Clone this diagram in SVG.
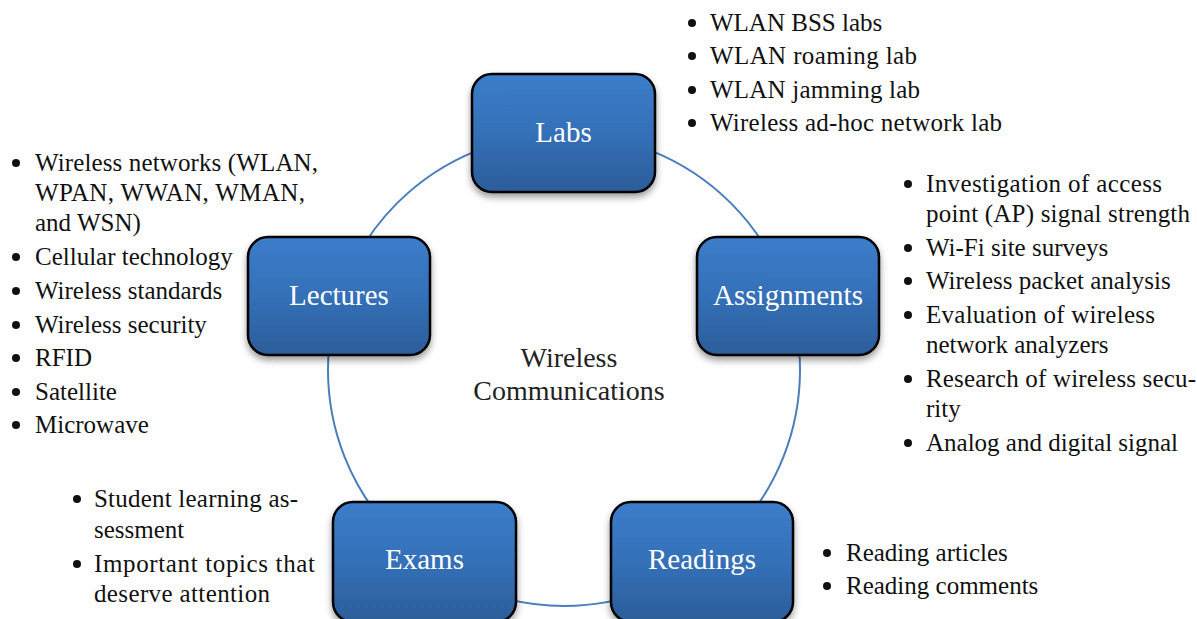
<svg xmlns="http://www.w3.org/2000/svg" width="1197" height="619" viewBox="0 0 1197 619">
<defs>
<linearGradient id="boxGrad" x1="0" y1="0" x2="0" y2="1">
<stop offset="0" stop-color="#3C7DCA"/>
<stop offset="0.5" stop-color="#3470B8"/>
<stop offset="1" stop-color="#2C5D99"/>
</linearGradient>
<filter id="shadow" x="-20%" y="-20%" width="140%" height="150%">
<feDropShadow dx="0" dy="4" stdDeviation="3.5" flood-color="#000" flood-opacity="0.4"/>
</filter>
<style>
.box{fill:url(#boxGrad);stroke:#000;stroke-width:2.5;filter:url(#shadow)}
.lbl{font-family:"Liberation Serif","Times New Roman",serif;font-size:29px;fill:#fff;text-anchor:middle}
.txt{font-family:"Liberation Serif","Times New Roman",serif;font-size:25px;fill:#111}
.ctr{font-family:"Liberation Serif","Times New Roman",serif;font-size:28px;fill:#222;text-anchor:middle}
.dot{fill:#111}
.ring{fill:none;stroke:#4A7EBE;stroke-width:2}
</style>
</defs>
<rect width="1197" height="619" fill="#fff"/>
<g id="connectors">
<circle class="ring" cx="564" cy="370" r="236"/>
</g>
<g id="center-label">
<text class="ctr" x="569" y="367">Wireless</text>
<text class="ctr" x="569" y="400">Communications</text>
</g>
<g id="node-labs">
<rect class="box" x="472" y="74" width="183" height="118" rx="20"/>
<text class="lbl" x="563.5" y="142">Labs</text>
</g>
<g id="node-lectures">
<rect class="box" x="248" y="237" width="182" height="118" rx="20"/>
<text class="lbl" x="339" y="305">Lectures</text>
</g>
<g id="node-assignments">
<rect class="box" x="697" y="237" width="182" height="118" rx="20"/>
<text class="lbl" x="788" y="305">Assignments</text>
</g>
<g id="node-exams">
<rect class="box" x="333" y="502" width="183" height="120" rx="20"/>
<text class="lbl" x="424.5" y="569">Exams</text>
</g>
<g id="node-readings">
<rect class="box" x="611" y="502" width="182" height="120" rx="20"/>
<text class="lbl" x="702" y="569">Readings</text>
</g>
<g id="list-labs">
<circle class="dot" cx="692" cy="23" r="4"/>
<circle class="dot" cx="692" cy="56" r="4"/>
<circle class="dot" cx="692" cy="90" r="4"/>
<circle class="dot" cx="692" cy="123" r="4"/>
<text class="txt" x="710" y="31">WLAN BSS labs</text>
<text class="txt" x="710" y="64" textLength="207">WLAN roaming lab</text>
<text class="txt" x="710" y="98" textLength="210">WLAN jamming lab</text>
<text class="txt" x="710" y="131" textLength="292">Wireless ad-hoc network lab</text>
</g>
<g id="list-lectures">
<circle class="dot" cx="16" cy="163" r="4"/>
<circle class="dot" cx="16" cy="257" r="4"/>
<circle class="dot" cx="16" cy="291" r="4"/>
<circle class="dot" cx="16" cy="325" r="4"/>
<circle class="dot" cx="16" cy="358" r="4"/>
<circle class="dot" cx="16" cy="392" r="4"/>
<circle class="dot" cx="16" cy="425" r="4"/>
<text class="txt" x="35" y="171" textLength="283">Wireless networks (WLAN,</text>
<text class="txt" x="35" y="201" textLength="270">WPAN, WWAN, WMAN,</text>
<text class="txt" x="35" y="231">and WSN)</text>
<text class="txt" x="35" y="265">Cellular technology</text>
<text class="txt" x="35" y="299">Wireless standards</text>
<text class="txt" x="35" y="333">Wireless security</text>
<text class="txt" x="35" y="366">RFID</text>
<text class="txt" x="35" y="400">Satellite</text>
<text class="txt" x="35" y="433">Microwave</text>
</g>
<g id="list-assignments">
<circle class="dot" cx="908" cy="184" r="4"/>
<circle class="dot" cx="908" cy="248" r="4"/>
<circle class="dot" cx="908" cy="281" r="4"/>
<circle class="dot" cx="908" cy="315" r="4"/>
<circle class="dot" cx="908" cy="379" r="4"/>
<circle class="dot" cx="908" cy="443" r="4"/>
<text class="txt" x="926" y="192" textLength="236">Investigation of access</text>
<text class="txt" x="926" y="222" textLength="264">point (AP) signal strength</text>
<text class="txt" x="926" y="256">Wi-Fi site surveys</text>
<text class="txt" x="926" y="289">Wireless packet analysis</text>
<text class="txt" x="926" y="323" textLength="229">Evaluation of wireless</text>
<text class="txt" x="926" y="353">network analyzers</text>
<text class="txt" x="926" y="387" textLength="270">Research of wireless secu-</text>
<text class="txt" x="926" y="417">rity</text>
<text class="txt" x="926" y="451">Analog and digital signal</text>
</g>
<g id="list-exams">
<circle class="dot" cx="77" cy="499" r="4"/>
<circle class="dot" cx="77" cy="564" r="4"/>
<text class="txt" x="94" y="507" textLength="204">Student learning as-</text>
<text class="txt" x="94" y="538">sessment</text>
<text class="txt" x="94" y="572" textLength="221">Important topics that</text>
<text class="txt" x="94" y="602" textLength="176">deserve attention</text>
</g>
<g id="list-readings">
<circle class="dot" cx="827" cy="553" r="4"/>
<circle class="dot" cx="827" cy="586" r="4"/>
<text class="txt" x="846" y="561">Reading articles</text>
<text class="txt" x="846" y="594">Reading comments</text>
</g>
</svg>
